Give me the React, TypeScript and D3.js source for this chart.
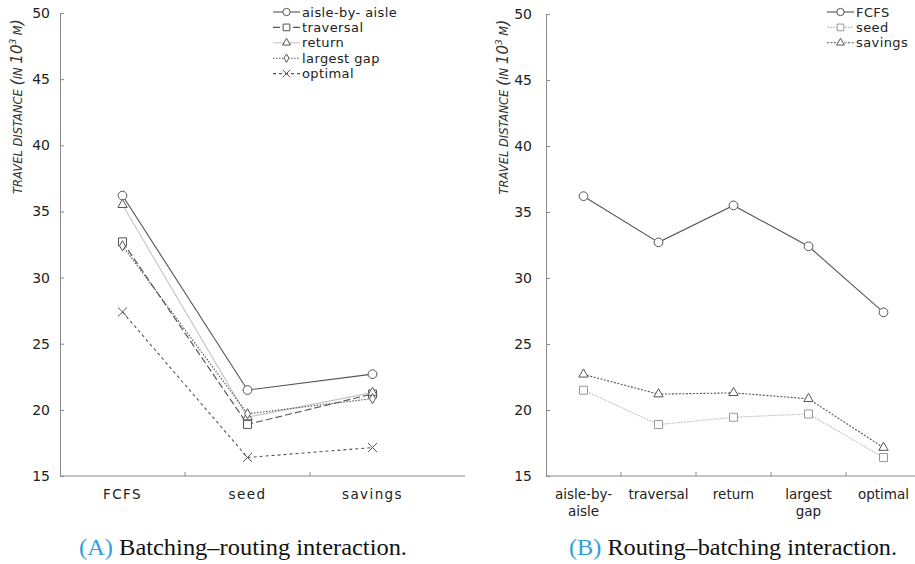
import { useRef, useEffect } from "react";
import * as d3 from "d3";

// categories
const batchingMethods = ["FCFS", "seed", "savings"];
const routingMethods = ["aisle-by- aisle", "traversal", "return", "largest gap", "optimal"];
const routingTickLines = [["aisle-by-", "aisle"], ["traversal"], ["return"], ["largest", "gap"], ["optimal"]];
const yTicks = [15, 20, 25, 30, 35, 40, 45, 50];

// travel distance (10^3 m), one value per routing method
const fcfsValues = [36.2, 32.7, 35.5, 32.4, 27.4];
const seedValues = [21.5, 18.9, 19.45, 19.7, 16.4];
const savingsValues = [22.7, 21.2, 21.3, 20.85, 17.15];

const dark = "#555";
const light = "#c4c4c4";
const axisColor = "#8a8a8a";
const tickFont = "DejaVu Sans, Verdana, sans-serif";

type Style = { stroke: string; dash: string | null; symbol: any; size: number; markStroke: string };

// styles for chart A (one per routing method)
const routingStyles: Style[] = [
    { stroke: dark, dash: null, symbol: d3.symbolCircle, size: 60, markStroke: dark },
    { stroke: dark, dash: "7,3", symbol: d3.symbolSquare, size: 64, markStroke: dark },
    { stroke: light, dash: null, symbol: d3.symbolTriangle, size: 38, markStroke: dark },
    { stroke: dark, dash: "1.5,1.5", symbol: d3.symbolDiamond, size: 30, markStroke: dark },
    { stroke: dark, dash: "3,3", symbol: d3.symbolX, size: 55, markStroke: dark },
];

// styles for chart B (one per batching method)
const batchingStyles: Style[] = [
    { stroke: dark, dash: null, symbol: d3.symbolCircle, size: 60, markStroke: dark },
    { stroke: light, dash: "2,1", symbol: d3.symbolSquare, size: 64, markStroke: "#999" },
    { stroke: dark, dash: "2,1.5", symbol: d3.symbolTriangle, size: 38, markStroke: dark },
];

function drawPanel(svg: any, opts: any) {
    const { left, right, top, bottom, categories, tickLines, series, names, styles, legendX, letterSpacing, labelPad, titleX } = opts;

    const x = d3.scaleBand().domain(categories).range([left, right]);
    const y = d3.scaleLinear().domain([15, 50]).range([bottom, top]);

    const g = svg.append("g");

    // y axis, ticks pointing inwards
    const yAxis = d3.axisLeft(y).tickValues(yTicks).tickSizeInner(-4).tickSizeOuter(0).tickPadding(labelPad);
    const ya = g.append("g").attr("transform", `translate(${left},0)`).call(yAxis);
    ya.select(".domain").attr("stroke", axisColor);
    ya.selectAll(".tick line").attr("stroke", axisColor);
    ya.selectAll(".tick text").attr("fill", "#222").style("font-family", tickFont).style("font-size", "14px");

    // x axis line with ticks between the categories
    g.append("line")
        .attr("x1", left).attr("x2", right + 30)
        .attr("y1", bottom).attr("y2", bottom)
        .attr("stroke", axisColor);
    g.selectAll(".xtick")
        .data(categories.slice(1))
        .enter()
        .append("line")
        .attr("x1", (d: string) => x(d)).attr("x2", (d: string) => x(d))
        .attr("y1", bottom).attr("y2", bottom - 4)
        .attr("stroke", axisColor);

    const xl = g.selectAll(".xlabel")
        .data(categories)
        .enter()
        .append("text")
        .attr("text-anchor", "middle")
        .attr("fill", "#222")
        .style("font-family", tickFont)
        .style("font-size", "13.5px")
        .style("letter-spacing", letterSpacing + "px");
    xl.each(function (this: any, d: string, i: number) {
        d3.select(this).selectAll("tspan")
            .data(tickLines[i])
            .enter()
            .append("tspan")
            .attr("x", x(d)! + x.bandwidth() / 2)
            .attr("y", (t: string, j: number) => bottom + 23 + j * 17)
            .text((t: string) => t);
    });

    // y axis title
    const title = g.append("text")
        .attr("transform", `translate(${titleX},${(top + 200) / 2}) rotate(-90)`)
        .attr("text-anchor", "middle")
        .attr("fill", "#333")
        .style("font-family", tickFont)
        .style("font-style", "italic")
        .style("font-size", "11.5px");
    title.append("tspan").text("TRAVEL DISTANCE ");
    title.append("tspan").style("font-size", "16px").text("(");
    title.append("tspan").text("IN ");
    title.append("tspan").style("font-size", "15px").text("10");
    title.append("tspan").style("font-size", "9px").attr("dy", -6).text("3");
    title.append("tspan").attr("dy", 6).text(" M");
    title.append("tspan").style("font-size", "16px").text(")");

    const line = d3.line<number>()
        .x((d, i) => x(categories[i])! + x.bandwidth() / 2)
        .y(d => y(d));

    series.forEach((vals: number[], s: number) => {
        const st = styles[s];
        g.append("path")
            .datum(vals)
            .attr("d", line)
            .attr("fill", "none")
            .attr("stroke", st.stroke)
            .attr("stroke-width", 1.1)
            .attr("stroke-dasharray", st.dash);
        g.selectAll(".m" + s)
            .data(vals)
            .enter()
            .append("path")
            .attr("d", d3.symbol().type(st.symbol).size(st.size))
            .attr("transform", (d: number, i: number) => `translate(${x(categories[i])! + x.bandwidth() / 2},${y(d)})`)
            .attr("fill", "white")
            .attr("stroke", st.markStroke)
            .attr("stroke-width", 1);
    });

    // legend
    const lg = g.append("g").attr("transform", `translate(${legendX},12)`);
    names.forEach((name: string, s: number) => {
        const st = styles[s];
        const row = lg.append("g").attr("transform", `translate(0,${s * 15.4})`);
        row.append("line")
            .attr("x1", 0).attr("x2", 27)
            .attr("stroke", st.stroke)
            .attr("stroke-width", 1.1)
            .attr("stroke-dasharray", st.dash);
        row.append("path")
            .attr("d", d3.symbol().type(st.symbol).size(st.size * 0.7)())
            .attr("transform", "translate(13.5,0)")
            .attr("fill", "white")
            .attr("stroke", st.markStroke);
        row.append("text")
            .attr("x", 29)
            .attr("y", 4.5)
            .attr("fill", "#222")
            .style("font-family", tickFont)
            .style("font-size", "13px")
            .style("letter-spacing", "0.4px")
            .text(name);
    });
}

export default function App() {
    const ref = useRef<SVGSVGElement>(null);

    useEffect(() => {
        const svg = d3.select(ref.current);
        svg.selectAll("*").remove();

        // chart A: one line per routing method across batching methods
        const seriesA = routingMethods.map((r, i) => [fcfsValues[i], seedValues[i], savingsValues[i]]);
        drawPanel(svg, {
            left: 60, right: 435, top: 13, bottom: 476,
            categories: batchingMethods, tickLines: batchingMethods.map(d => [d]),
            series: seriesA, names: routingMethods, styles: routingStyles,
            legendX: 273, letterSpacing: 1.4, labelPad: 10, titleX: 22,
        });

        // chart B: one line per batching method across routing methods
        drawPanel(svg, {
            left: 546, right: 921, top: 14, bottom: 476,
            categories: routingMethods, tickLines: routingTickLines,
            series: [fcfsValues, seedValues, savingsValues], names: batchingMethods, styles: batchingStyles,
            legendX: 827, letterSpacing: 0, labelPad: 14, titleX: 508,
        });

        // captions
        const caps = [
            { x: 243, tag: "(A)", text: " Batching–routing interaction." },
            { x: 733, tag: "(B)", text: " Routing–batching interaction." },
        ];
        caps.forEach(c => {
            const t = svg.append("text")
                .attr("x", c.x).attr("y", 555)
                .attr("text-anchor", "middle")
                .attr("textLength", 328)
                .attr("lengthAdjust", "spacingAndGlyphs")
                .style("font-family", "Liberation Serif, serif")
                .style("font-size", "24px")
                .attr("fill", "#111");
            t.append("tspan").attr("fill", "#2e9fd8").text(c.tag);
            t.append("tspan").text(c.text);
        });
    }, []);

    return (
        <div>
            <svg ref={ref} width={915} height={564} style={{ position: "absolute", left: 0, top: 0, background: "white" }} />
        </div>
    );
}
